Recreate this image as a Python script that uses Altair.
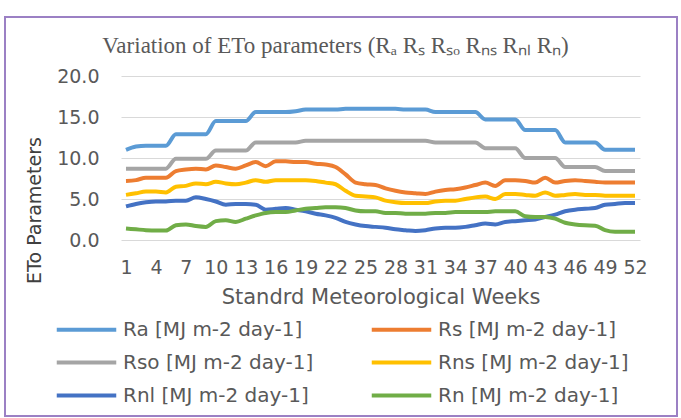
import altair as alt
import pandas as pd

weeks = list(range(1, 53))

ra = [11.0, 11.4, 11.5, 11.5, 11.5, 12.9, 12.9, 12.9, 12.9, 14.5,
      14.5, 14.5, 14.5, 15.6, 15.6, 15.6, 15.6, 15.7, 15.9, 15.9,
      15.9, 15.9, 16.0, 16.0, 16.0, 16.0, 16.0, 16.0, 15.9, 15.9,
      15.9, 15.6, 15.6, 15.6, 15.6, 15.6, 14.7, 14.7, 14.7, 14.7,
      13.4, 13.4, 13.4, 13.4, 11.9, 11.9, 11.9, 11.9, 11.0, 11.0,
      11.0, 11.0]
rs = [7.2, 7.3, 7.6, 7.6, 7.6, 8.4, 8.6, 8.7, 8.6, 9.1,
      8.9, 8.7, 9.1, 9.5, 9.0, 9.6, 9.6, 9.5, 9.5, 9.3,
      9.2, 8.9, 8.0, 7.0, 6.8, 6.7, 6.3, 6.0, 5.8, 5.7,
      5.6, 5.9, 6.1, 6.2, 6.4, 6.7, 7.0, 6.6, 7.3, 7.3,
      7.2, 7.0, 7.6, 7.0, 7.2, 7.3, 7.2, 7.1, 7.0, 7.0,
      7.0, 7.0]
rso = [8.7, 8.7, 8.7, 8.7, 8.7, 9.9, 9.9, 9.9, 9.9, 10.9,
       10.9, 10.9, 10.9, 11.9, 11.9, 11.9, 11.9, 11.9, 12.1, 12.1,
       12.1, 12.1, 12.1, 12.1, 12.1, 12.1, 12.1, 12.1, 12.1, 12.1,
       12.1, 11.9, 11.9, 11.9, 11.9, 11.9, 11.2, 11.2, 11.2, 11.2,
       10.0, 10.0, 10.0, 10.0, 8.9, 8.9, 8.9, 8.9, 8.4, 8.4,
       8.4, 8.4]
rns = [5.5, 5.7, 5.9, 5.9, 5.8, 6.5, 6.6, 6.9, 6.8, 7.1,
       6.9, 6.8, 7.0, 7.3, 7.1, 7.3, 7.3, 7.3, 7.3, 7.2,
       7.0, 6.8, 6.0, 5.4, 5.3, 5.2, 4.8, 4.6, 4.5, 4.5,
       4.5, 4.7, 4.8, 4.8, 5.0, 5.2, 5.3, 5.0, 5.6, 5.6,
       5.5, 5.4, 5.8, 5.4, 5.5, 5.6, 5.5, 5.5, 5.4, 5.4,
       5.4, 5.4]
rnl = [4.1, 4.4, 4.6, 4.7, 4.7, 4.8, 4.8, 5.2, 5.0, 4.7,
       4.3, 4.4, 4.4, 4.3, 3.7, 3.8, 3.9, 3.7, 3.5, 3.2,
       3.0, 2.7, 2.2, 1.9, 1.7, 1.6, 1.5, 1.3, 1.2, 1.1,
       1.2, 1.4, 1.5, 1.5, 1.6, 1.8, 2.0, 1.9, 2.2, 2.3,
       2.4, 2.5, 2.8, 3.1, 3.5, 3.7, 3.8, 3.9, 4.3, 4.4,
       4.5, 4.5]
rn = [1.4, 1.3, 1.2, 1.15, 1.15, 1.8, 1.9, 1.7, 1.6, 2.3,
      2.4, 2.2, 2.6, 3.0, 3.3, 3.4, 3.4, 3.6, 3.8, 3.9,
      4.0, 4.0, 3.9, 3.6, 3.5, 3.5, 3.3, 3.3, 3.2, 3.2,
      3.2, 3.3, 3.3, 3.4, 3.4, 3.4, 3.4, 3.5, 3.5, 3.5,
      2.9, 2.8, 2.8, 2.6, 2.1, 1.9, 1.8, 1.75, 1.2, 1.0,
      1.0, 1.0]

series_names = ["Ra [MJ m-2 day-1]", "Rs [MJ m-2 day-1]", "Rso [MJ m-2 day-1]",
                "Rns [MJ m-2 day-1]", "Rnl [MJ m-2 day-1]", "Rn [MJ m-2 day-1]"]
series_values = [ra, rs, rso, rns, rnl, rn]
series_colors = ["#5B9BD5", "#ED7D31", "#A5A5A5", "#FFC000", "#4472C4", "#70AD47"]
x_tick_values = list(range(1, 53, 3))
y_tick_values = [0, 5, 10, 15, 20]

rows = []
for order, (name, vals) in enumerate(zip(series_names, series_values)):
    for w, v in zip(weeks, vals):
        rows.append({"week": w, "value": v, "series": name, "order": order})
df = pd.DataFrame(rows)

grey = "#595959"

lines = alt.Chart(df).mark_line(strokeWidth=4, interpolate="monotone").encode(
    x=alt.X("week:Q",
            scale=alt.Scale(domain=[0.5, 52.5], nice=False, zero=False),
            axis=alt.Axis(values=x_tick_values, grid=False, domain=False, ticks=False,
                          labelFont="DejaVu Sans", labelFontSize=19, labelColor=grey,
                          labelPadding=18, labelOverlap=False, labelFlush=False,
                          title="Standrd Meteorological Weeks",
                          titleFont="DejaVu Sans", titleFontSize=21, titleColor=grey,
                          titleFontWeight="normal", titleBaseline="middle", titleY=57)),
    y=alt.Y("value:Q",
            scale=alt.Scale(domain=[0, 20], nice=False),
            axis=alt.Axis(values=y_tick_values, format=".1f", grid=True,
                          gridColor="#D9D9D9", gridWidth=1, domain=False, ticks=False,
                          labelFont="DejaVu Sans", labelFontSize=19, labelColor=grey,
                          labelPadding=22,
                          title="ETo Parameters", titleFont="DejaVu Sans",
                          titleFontSize=19, titleColor="#404040", titleFontWeight="normal",
                          titleAngle=270, titleAlign="center", titleBaseline="middle",
                          titleX=-87, titleY=134)),
    color=alt.Color("series:N",
                    scale=alt.Scale(domain=series_names, range=series_colors),
                    legend=alt.Legend(orient="none", legendX=-54, legendY=234,
                                      columns=2, title=None, symbolType="M-1.7,0H1.7",
                                      symbolSize=1225, symbolStrokeWidth=4,
                                      labelFont="DejaVu Sans", labelFontSize=20,
                                      labelColor=grey, labelOffset=17, labelLimit=0,
                                      rowPadding=3, columnPadding=49, padding=0,
                                      direction="horizontal")),
    order=alt.Order("order:Q"),
)

frame = alt.Chart(pd.DataFrame({"a": [0]})).mark_rect(
    fill=None, stroke="#9B80C4", strokeWidth=2
).encode(
    x=alt.value(-116), x2=alt.value(556), y=alt.value(-59), y2=alt.value(340)
)

chart = alt.layer(lines, frame).properties(
    width=519,
    height=164,
    title=alt.TitleParams(
        text="Variation of ETo parameters (R\u2090 R\u209b R\u209b\u2092 R\u2099\u209b R\u2099\u2097 R\u2099)",
        font="Liberation Serif", fontSize=23, fontWeight="normal", color=grey,
        anchor="middle", dx=-45, dy=60, offset=18),
    autosize=alt.AutoSizeParams(type="none"),
    padding={"left": 121, "top": 76, "right": 41, "bottom": 178},
    background="white",
).configure_view(stroke=None)

chart.save("out.html", embed_options={"renderer": "svg", "actions": False})
